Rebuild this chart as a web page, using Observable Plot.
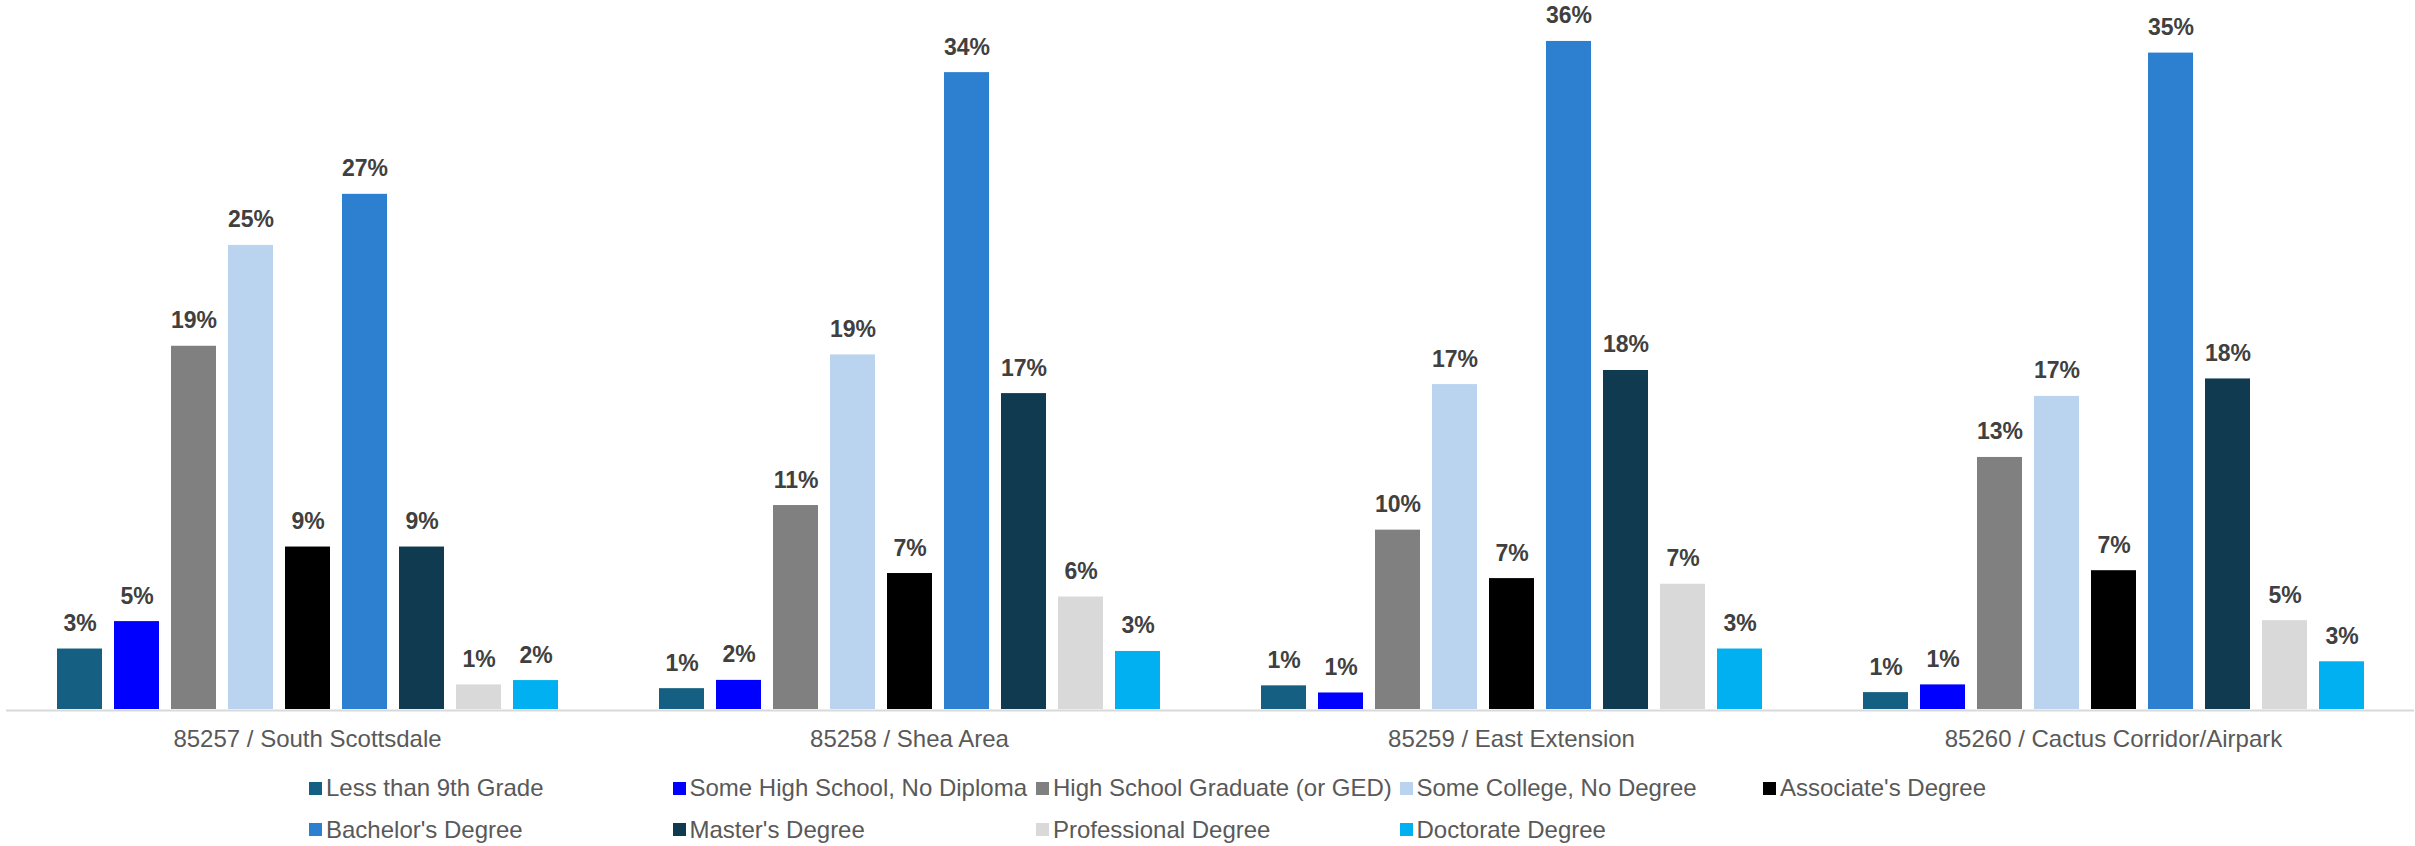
<!DOCTYPE html>
<html>
<head>
<meta charset="utf-8">
<script src="https://cdn.jsdelivr.net/npm/d3@7"></script>
<script src="https://cdn.jsdelivr.net/npm/@observablehq/plot@0.6"></script>
<style>
  html, body { margin: 0; padding: 0; background: #fff; }
  body { width: 2415px; height: 846px; position: relative; overflow: hidden; font-family: "Liberation Sans", Arial, sans-serif; }
  #chart svg { display: block; font-family: "Liberation Sans", Arial, sans-serif; }
  #legend { position: absolute; left: 309px; top: 767.5px; display: grid; grid-template-columns: repeat(5, 363.5px); }
  .item { display: flex; align-items: center; height: 41.6px; font-size: 24px; color: #595959; white-space: nowrap; }
  .sw { width: 13px; height: 13px; margin-right: 4px; flex: none; }
</style>
</head>
<body>
<div id="chart"></div>
<div id="legend"></div>
<script>
const zips = ["85257 / South Scottsdale", "85258 / Shea Area", "85259 / East Extension", "85260 / Cactus Corridor/Airpark"];
const levels = ["Less than 9th Grade", "Some High School, No Diploma", "High School Graduate (or GED)", "Some College, No Degree", "Associate's Degree", "Bachelor's Degree", "Master's Degree", "Professional Degree", "Doctorate Degree"];
const colors = ["#156082", "#0000ff", "#808080", "#bad4ef", "#000000", "#2d7fd0", "#0f3a4f", "#d9d9d9", "#00b0f0"];

// percent of population, per zip, in level order
const v85257 = [3.22, 4.68, 19.34, 24.71, 8.65, 27.43, 8.65, 1.31, 1.54];
const v85258 = [1.11, 1.55, 10.86, 18.88, 7.24, 33.91, 16.82, 5.99, 3.09];
const v85259 = [1.26, 0.88, 9.55, 17.30, 6.97, 35.57, 18.05, 6.67, 3.22];
const v85260 = [0.90, 1.31, 13.42, 16.67, 7.39, 34.95, 17.60, 4.73, 2.54];

const series = [v85257, v85258, v85259, v85260];
const data = [];
zips.forEach((z, i) => levels.forEach((l, j) => data.push({zip: z, level: l, value: series[i][j]})));

const chart = Plot.plot({
  width: 2415,
  height: 767,
  marginLeft: 4,
  marginRight: 0,
  marginTop: 0,
  marginBottom: 58,
  style: {fontFamily: '"Liberation Sans", Arial, sans-serif', background: "#fff"},
  fx: {domain: zips, padding: 0},
  x: {domain: levels, paddingInner: 0.215, paddingOuter: 0.867, axis: null},
  y: {domain: [0, 37.75], axis: null},
  color: {domain: levels, range: colors},
  marks: [
    Plot.ruleY([0], {stroke: "#d9d9d9", strokeWidth: 2, dy: 1}),
    Plot.barY(data, {fx: "zip", x: "level", y: "value", fill: "level"}),
    Plot.text(data, {fx: "zip", x: "level", y: "value", text: d => Math.round(d.value) + "%", lineAnchor: "bottom", dy: -18, fontSize: 23, fontWeight: "bold", fill: "#404040"}),
    Plot.axisFx({anchor: "bottom", tickSize: 0, tickPadding: 20, fontSize: 24, fill: "#595959", label: null})
  ]
});
document.getElementById("chart").appendChild(chart);

const legend = document.getElementById("legend");
levels.forEach((l, i) => {
  const it = document.createElement("div");
  it.className = "item";
  const sw = document.createElement("span");
  sw.className = "sw";
  sw.style.background = colors[i];
  const tx = document.createElement("span");
  tx.textContent = l;
  it.appendChild(sw);
  it.appendChild(tx);
  legend.appendChild(it);
});
</script>
</body>
</html>
